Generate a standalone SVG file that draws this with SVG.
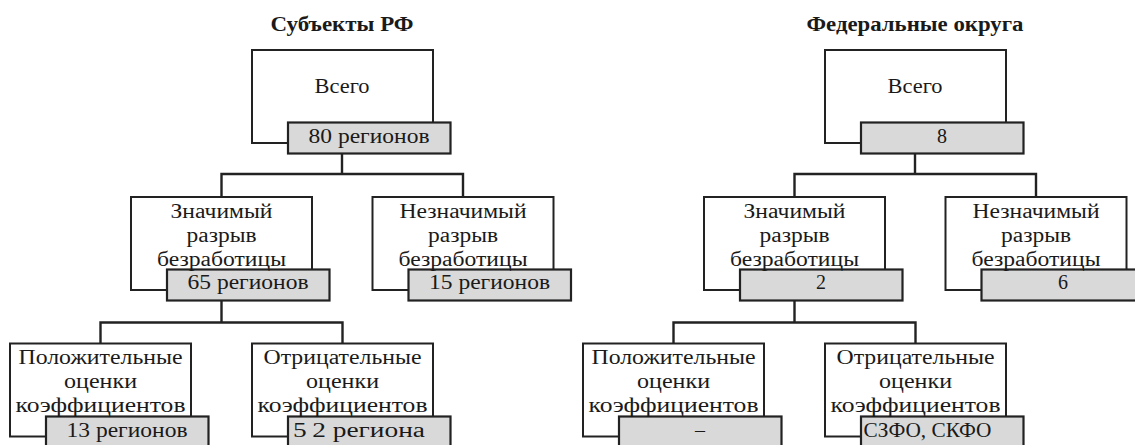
<svg xmlns="http://www.w3.org/2000/svg" width="1135" height="445" viewBox="0 0 1135 445">
<style>
.box{fill:#ffffff;stroke:#222;stroke-width:2}
.val{fill:#d9d9d9;stroke:#222;stroke-width:2.2}
.con{fill:none;stroke:#222;stroke-width:2.4;stroke-linejoin:miter}
</style>
<rect x="0" y="0" width="1135" height="445" fill="#ffffff"/>

<g id="connectors">
  <path class="con" d="M342 153.5V174M221.5 197V174H463V197"/>
  <path class="con" d="M221.5 300V322.5M100.5 343.5V322.5H342.5V343.5"/>
  <path class="con" d="M915 153.5V174M794.5 197V174H1036V197"/>
  <path class="con" d="M794.5 300V322.5M673.5 343.5V322.5H915.5V343.5"/>
</g>

<g font-family="Liberation Serif, Times New Roman, serif" font-size="20" fill="#1a1a1a" text-anchor="middle">
<g id="title-left"><text font-family="Liberation Serif, serif" font-weight="bold" x="342" y="31" textLength="143" lengthAdjust="spacingAndGlyphs">Субъекты РФ</text></g>
<g id="title-right"><text font-family="Liberation Serif, serif" font-weight="bold" x="915" y="31" textLength="217" lengthAdjust="spacingAndGlyphs">Федеральные округа</text></g>

<g id="l-total">
  <rect class="box" x="252" y="50" width="181" height="93"/>
  <rect class="val" x="288" y="122.5" width="162.5" height="31"/>
  <text font-family="Liberation Serif, serif" x="342" y="93" textLength="55" lengthAdjust="spacingAndGlyphs">Всего</text>
  <text font-family="Liberation Serif, serif" x="369" y="142.5" textLength="121" lengthAdjust="spacingAndGlyphs">80 регионов</text>
</g>
<g id="l-sig">
  <rect class="box" x="131" y="197" width="181" height="93"/>
  <rect class="val" x="167" y="269.5" width="162.5" height="31"/>
  <text font-family="Liberation Serif, serif" x="221.5" y="218" textLength="102" lengthAdjust="spacingAndGlyphs">Значимый</text>
  <text font-family="Liberation Serif, serif" x="221.5" y="242" textLength="70" lengthAdjust="spacingAndGlyphs">разрыв</text>
  <text font-family="Liberation Serif, serif" x="221.5" y="266" textLength="129" lengthAdjust="spacingAndGlyphs">безработицы</text>
  <text font-family="Liberation Serif, serif" x="248" y="289" textLength="121" lengthAdjust="spacingAndGlyphs">65 регионов</text>
</g>
<g id="l-insig">
  <rect class="box" x="372.5" y="197" width="181" height="93"/>
  <rect class="val" x="408.5" y="269.5" width="162.5" height="31"/>
  <text font-family="Liberation Serif, serif" x="463" y="218" textLength="127" lengthAdjust="spacingAndGlyphs">Незначимый</text>
  <text font-family="Liberation Serif, serif" x="463" y="242" textLength="70" lengthAdjust="spacingAndGlyphs">разрыв</text>
  <text font-family="Liberation Serif, serif" x="463" y="266" textLength="129" lengthAdjust="spacingAndGlyphs">безработицы</text>
  <text font-family="Liberation Serif, serif" x="489.5" y="289" textLength="121" lengthAdjust="spacingAndGlyphs">15 регионов</text>
</g>
<g id="l-pos">
  <rect class="box" x="10" y="343.5" width="181" height="93"/>
  <rect class="val" x="46" y="416.5" width="162.5" height="31"/>
  <text font-family="Liberation Serif, serif" x="100.5" y="364" textLength="164" lengthAdjust="spacingAndGlyphs">Положительные</text>
  <text font-family="Liberation Serif, serif" x="100.5" y="388" textLength="73" lengthAdjust="spacingAndGlyphs">оценки</text>
  <text font-family="Liberation Serif, serif" x="100.5" y="412" textLength="170" lengthAdjust="spacingAndGlyphs">коэффициентов</text>
  <text font-family="Liberation Serif, serif" x="127" y="436.5" textLength="121" lengthAdjust="spacingAndGlyphs">13 регионов</text>
</g>
<g id="l-neg">
  <rect class="box" x="252" y="343.5" width="181" height="93"/>
  <rect class="val" x="288" y="416.5" width="162.5" height="31"/>
  <text font-family="Liberation Serif, serif" x="342.5" y="364" textLength="158" lengthAdjust="spacingAndGlyphs">Отрицательные</text>
  <text font-family="Liberation Serif, serif" x="342.5" y="388" textLength="73" lengthAdjust="spacingAndGlyphs">оценки</text>
  <text font-family="Liberation Serif, serif" x="342.5" y="412" textLength="170" lengthAdjust="spacingAndGlyphs">коэффициентов</text>
  <text font-family="Liberation Serif, serif" x="359" y="436.5" textLength="132" lengthAdjust="spacingAndGlyphs">5&#8201;2 региона</text>
</g>

<g id="r-total">
  <rect class="box" x="825" y="50" width="181" height="93"/>
  <rect class="val" x="861" y="122.5" width="162.5" height="31"/>
  <text font-family="Liberation Serif, serif" x="915" y="93" textLength="55" lengthAdjust="spacingAndGlyphs">Всего</text>
  <text font-family="Liberation Serif, serif" x="942" y="142.5">8</text>
</g>
<g id="r-sig">
  <rect class="box" x="704" y="197" width="181" height="93"/>
  <rect class="val" x="740" y="269.5" width="162.5" height="31"/>
  <text font-family="Liberation Serif, serif" x="794.5" y="218" textLength="102" lengthAdjust="spacingAndGlyphs">Значимый</text>
  <text font-family="Liberation Serif, serif" x="794.5" y="242" textLength="70" lengthAdjust="spacingAndGlyphs">разрыв</text>
  <text font-family="Liberation Serif, serif" x="794.5" y="266" textLength="129" lengthAdjust="spacingAndGlyphs">безработицы</text>
  <text font-family="Liberation Serif, serif" x="821" y="289">2</text>
</g>
<g id="r-insig">
  <rect class="box" x="945.5" y="197" width="181" height="93"/>
  <rect class="val" x="981.5" y="269.5" width="162.5" height="31"/>
  <text font-family="Liberation Serif, serif" x="1036" y="218" textLength="127" lengthAdjust="spacingAndGlyphs">Незначимый</text>
  <text font-family="Liberation Serif, serif" x="1036" y="242" textLength="70" lengthAdjust="spacingAndGlyphs">разрыв</text>
  <text font-family="Liberation Serif, serif" x="1036" y="266" textLength="129" lengthAdjust="spacingAndGlyphs">безработицы</text>
  <text font-family="Liberation Serif, serif" x="1063" y="289">6</text>
</g>
<g id="r-pos">
  <rect class="box" x="583" y="343.5" width="181" height="93"/>
  <rect class="val" x="619" y="416.5" width="162.5" height="31"/>
  <text font-family="Liberation Serif, serif" x="673.5" y="364" textLength="164" lengthAdjust="spacingAndGlyphs">Положительные</text>
  <text font-family="Liberation Serif, serif" x="673.5" y="388" textLength="73" lengthAdjust="spacingAndGlyphs">оценки</text>
  <text font-family="Liberation Serif, serif" x="673.5" y="412" textLength="170" lengthAdjust="spacingAndGlyphs">коэффициентов</text>
  <text font-family="Liberation Serif, serif" x="700" y="436.5">–</text>
</g>
<g id="r-neg">
  <rect class="box" x="825" y="343.5" width="181" height="93"/>
  <rect class="val" x="861" y="416.5" width="162.5" height="31"/>
  <text font-family="Liberation Serif, serif" x="915.5" y="364" textLength="158" lengthAdjust="spacingAndGlyphs">Отрицательные</text>
  <text font-family="Liberation Serif, serif" x="915.5" y="388" textLength="73" lengthAdjust="spacingAndGlyphs">оценки</text>
  <text font-family="Liberation Serif, serif" x="915.5" y="412" textLength="170" lengthAdjust="spacingAndGlyphs">коэффициентов</text>
  <text font-family="Liberation Serif, serif" x="927.5" y="436.5" textLength="128" lengthAdjust="spacingAndGlyphs">СЗФО, СКФО</text>
</g>
</g>
</svg>
